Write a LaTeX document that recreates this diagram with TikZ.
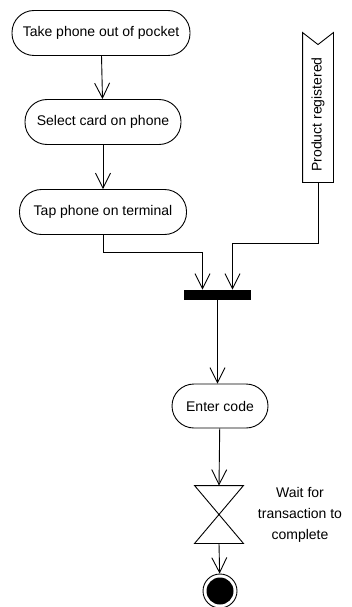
\documentclass[tikz,border=0pt]{standalone}
\usepackage{fontspec}
\setmainfont{Liberation Sans}
\usetikzlibrary{positioning,calc,arrows.meta}
\tikzset{>={Straight Barb[length=15pt,width=15pt]}}
\newcommand*{\lbl}[1]{\fontsize{14}{19}\selectfont #1}

\begin{document}
\begin{tikzpicture}[x=1pt,y=-1pt,line width=.9pt,
  action/.style={draw,rectangle,rounded corners=22pt,minimum height=45,inner sep=0,font=\lbl{}},
  syncbar/.style={fill=black,minimum width=67,minimum height=10,inner sep=0},
  final/.style={draw,circle,minimum size=34,inner sep=0,
    path picture={\fill (path picture bounding box.center) circle[radius=13.5pt];}}]
\useasboundingbox (0,0) rectangle (352,607);
\node[action,minimum width=178] (take) at (101,33) {Take phone out of pocket};
\node[action,minimum width=156] (select) at (103,122) {Select card on phone};
\node[action,minimum width=167] (tap) at (103,212) {Tap phone on terminal};
\node[syncbar] (bar) at (217.5,295) {};
\node[action,minimum width=96,minimum height=44] (enter) at (220,406) {Enter code};
\node[minimum width=48,minimum height=57,inner sep=0] (wait) at (219,514.5) {};
\node[align=center,font=\fontsize{14}{21}\selectfont] (waitlbl) at (300,515) {Wait for\\transaction to\\complete};
\node[final] (end) at (220,591) {};
% signal
\node[minimum width=30,minimum height=149,inner sep=0] (sig) at (318,107.5) {};
\draw (sig.north west) -- ([yshift=-12pt]sig.north) -- (sig.north east)
  -- (sig.south east) -- (sig.south west) -- cycle;
\node[rotate=90,font=\lbl{}] (siglbl) at ([yshift=-7pt]sig.center) {Product registered};
% hourglass
\draw (wait.north west) -- (wait.north east) -- (wait.south west) -- (wait.south east) -- cycle;
% flow
\draw[->] (take) -- (select);
\draw[->] (select) -- (tap);
\draw[->] (tap.south) -- ++(0,17) -| ([xshift=-15pt]bar.north);
\draw[->] (sig.south) -- ++(0,61) -| ([xshift=15pt]bar.north);
\draw[->] (bar.south) -- (bar.south |- enter.north);
\draw[->] (enter) -- (wait.north);
\draw[->] (wait.south) -- (end);
\end{tikzpicture}
\end{document}
